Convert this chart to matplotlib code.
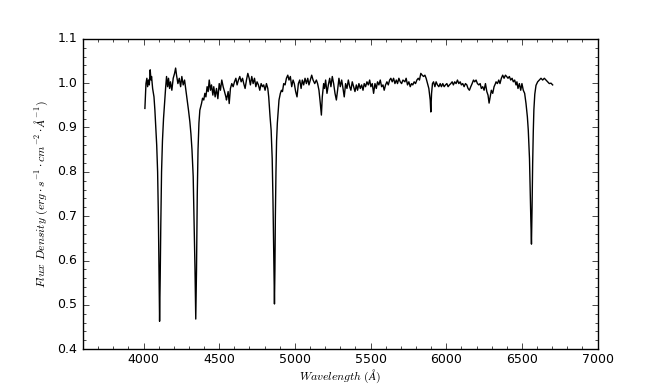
import matplotlib
matplotlib.use('Agg')
import matplotlib.pyplot as plt
from matplotlib.ticker import MultipleLocator

# spectrum (wavelength in Angstrom, normalised flux)
wavelength = [
    4009, 4016, 4022, 4027, 4033, 4038, 4044, 4049, 4053, 4060, 4069, 4075, 4082,
    4087, 4093, 4098, 4102, 4106, 4110, 4114, 4119, 4125, 4132, 4140, 4146, 4152,
    4159, 4165, 4172, 4178, 4187, 4196, 4205, 4212, 4218, 4227, 4236, 4245, 4253,
    4262, 4271, 4280, 4289, 4297, 4306, 4313, 4320, 4328, 4334, 4340, 4345, 4350,
    4355, 4360, 4366, 4372, 4383, 4390, 4398, 4405, 4412, 4420, 4427, 4434, 4442,
    4449, 4458, 4464, 4473, 4482, 4491, 4500, 4508, 4517, 4526, 4535, 4544, 4548,
    4559, 4566, 4574, 4583, 4592, 4601, 4610, 4618, 4627, 4636, 4645, 4654, 4662,
    4671, 4680, 4689, 4698, 4706, 4715, 4724, 4733, 4742, 4750, 4759, 4768, 4777,
    4786, 4794, 4803, 4812, 4821, 4827, 4836, 4843, 4850, 4855, 4859, 4862, 4865,
    4868, 4871, 4875, 4879, 4884, 4890, 4895, 4904, 4911, 4918, 4926, 4935, 4944,
    4953, 4961, 4970, 4979, 4988, 4996, 5005, 5014, 5023, 5032, 5041, 5049, 5058,
    5067, 5076, 5085, 5093, 5102, 5111, 5120, 5131, 5142, 5150, 5159, 5168, 5175,
    5181, 5190, 5196, 5203, 5212, 5221, 5230, 5238, 5247, 5256, 5265, 5274, 5282,
    5291, 5300, 5309, 5318, 5326, 5335, 5344, 5353, 5362, 5370, 5379, 5388, 5397,
    5406, 5414, 5423, 5432, 5441, 5450, 5458, 5467, 5476, 5485, 5494, 5502, 5511,
    5520, 5529, 5538, 5546, 5555, 5564, 5573, 5582, 5590, 5599, 5608, 5617, 5626,
    5634, 5643, 5652, 5661, 5670, 5678, 5687, 5696, 5705, 5714, 5727, 5735, 5744,
    5753, 5762, 5771, 5779, 5788, 5797, 5806, 5815, 5823, 5832, 5841, 5850, 5859,
    5867, 5876, 5885, 5894, 5898, 5903, 5909, 5916, 5925, 5933, 5942, 5951, 5960,
    5968, 5977, 5986, 5995, 6004, 6012, 6021, 6030, 6039, 6047, 6056, 6065, 6074,
    6083, 6092, 6100, 6109, 6118, 6127, 6136, 6144, 6153, 6162, 6171, 6180, 6188,
    6197, 6206, 6215, 6224, 6232, 6241, 6250, 6259, 6268, 6276, 6283, 6290, 6298,
    6307, 6316, 6325, 6329, 6338, 6347, 6355, 6364, 6373, 6382, 6391, 6399, 6408,
    6417, 6426, 6435, 6443, 6452, 6461, 6467, 6474, 6483, 6492, 6500, 6509, 6518,
    6527, 6536, 6542, 6550, 6555, 6559, 6563, 6567, 6571, 6575, 6579, 6585, 6593,
    6604, 6615, 6626, 6637, 6648, 6659, 6670, 6681, 6692, 6703,
]
flux = [
    0.943, 0.999, 1.011, 0.992, 1.007, 0.996, 1.030, 1.007, 1.015, 0.988, 0.969, 0.939, 0.894,
    0.860, 0.800, 0.700, 0.580, 0.463, 0.560, 0.680, 0.800, 0.870, 0.920, 0.960, 0.990, 1.015,
    0.992, 1.011, 0.988, 1.003, 0.984, 1.011, 1.022, 1.034, 1.018, 0.999, 1.011, 0.992, 1.015,
    0.996, 1.007, 0.984, 0.962, 0.939, 0.913, 0.886, 0.850, 0.790, 0.690, 0.580, 0.468, 0.580,
    0.750, 0.850, 0.910, 0.939, 0.954, 0.966, 0.962, 0.977, 0.969, 0.992, 0.981, 1.007, 0.984,
    0.996, 0.973, 0.992, 0.969, 0.988, 0.965, 0.999, 0.984, 1.007, 0.992, 0.981, 0.969, 0.962,
    0.981, 0.954, 0.988, 0.999, 0.992, 1.003, 1.011, 0.996, 1.007, 1.015, 1.003, 1.011, 0.999,
    0.988, 1.007, 1.022, 1.011, 0.996, 1.015, 0.999, 1.011, 0.992, 1.003, 0.996, 0.984, 0.999,
    0.992, 0.996, 0.984, 0.999, 0.988, 0.969, 0.924, 0.894, 0.830, 0.740, 0.640, 0.560, 0.502,
    0.580, 0.700, 0.800, 0.870, 0.910, 0.940, 0.962, 0.977, 0.984, 0.981, 0.999, 0.996, 1.011,
    1.018, 1.007, 1.015, 0.992, 1.007, 0.999, 0.981, 0.969, 0.999, 1.007, 0.988, 1.007, 0.996,
    1.011, 0.999, 1.011, 0.996, 1.007, 1.018, 1.007, 0.999, 1.007, 0.999, 0.984, 0.954, 0.928,
    0.969, 0.999, 0.988, 1.007, 0.977, 0.996, 1.011, 0.992, 1.015, 0.999, 0.977, 0.962, 0.984,
    1.011, 0.992, 1.007, 0.988, 0.969, 0.999, 0.988, 1.007, 0.992, 0.984, 1.003, 0.992, 0.981,
    0.996, 0.984, 0.999, 0.988, 0.996, 0.984, 0.999, 0.992, 1.003, 0.996, 1.007, 0.992, 0.999,
    0.977, 0.999, 0.988, 1.003, 0.996, 1.007, 0.992, 0.996, 0.984, 0.996, 1.003, 0.996, 1.007,
    1.011, 1.003, 1.011, 0.999, 1.007, 0.999, 1.011, 1.003, 0.999, 1.007, 1.003, 1.011, 0.996,
    1.003, 0.992, 0.999, 0.996, 1.003, 0.999, 1.007, 1.011, 1.007, 1.022, 1.018, 1.015, 1.018,
    1.011, 0.999, 0.988, 0.962, 0.935, 0.977, 0.999, 1.003, 0.992, 1.003, 0.996, 0.992, 0.999,
    0.992, 0.999, 0.992, 0.996, 0.999, 0.992, 0.996, 0.999, 1.003, 0.996, 1.003, 0.999, 1.007,
    0.999, 1.003, 0.996, 0.999, 0.992, 0.999, 0.996, 0.988, 0.984, 0.992, 0.999, 1.007, 1.003,
    1.007, 0.999, 0.996, 0.999, 0.988, 0.992, 0.984, 0.999, 0.981, 0.973, 0.955, 0.969, 0.984,
    0.977, 0.992, 0.999, 1.003, 0.999, 1.007, 0.999, 1.011, 1.018, 1.011, 1.018, 1.015, 1.011,
    1.015, 1.007, 1.011, 1.003, 1.007, 0.996, 1.003, 0.988, 0.999, 0.984, 0.999, 0.984, 0.977,
    0.954, 0.924, 0.894, 0.830, 0.750, 0.690, 0.637, 0.720, 0.820, 0.890, 0.940, 0.975, 0.995,
    1.003, 1.007, 1.011, 1.007, 1.011, 1.007, 1.003, 0.999, 1.000, 0.996,
]

x_ticks = [4000, 4500, 5000, 5500, 6000, 6500, 7000]
y_ticks = [0.4, 0.5, 0.6, 0.7, 0.8, 0.9, 1.0, 1.1]

plt.style.use('classic')
plt.rcParams['figure.facecolor'] = 'white'
plt.rcParams['savefig.facecolor'] = 'white'

fig, ax = plt.subplots(figsize=(6.64, 3.88), dpi=100)
ax.plot(wavelength, flux, color='k', linewidth=1.0)

ax.set_xlim(3600, 7000)
ax.set_ylim(0.4, 1.1)
ax.set_xticks(x_ticks)
ax.set_yticks(y_ticks)
ax.xaxis.set_minor_locator(MultipleLocator(100))
ax.yaxis.set_minor_locator(MultipleLocator(0.02))
ax.tick_params(labelsize=9)
ax.tick_params(axis='x', pad=3)

ax.set_xlabel(r'$Wavelength\ (\AA)$', fontsize=8.5, labelpad=1)
ax.set_ylabel(r'$Flux\ Density\ (erg\cdot s^{-1}\cdot cm^{-2}\cdot \AA^{-1})$', fontsize=8.5)

fig.savefig('out.png', dpi=100)
